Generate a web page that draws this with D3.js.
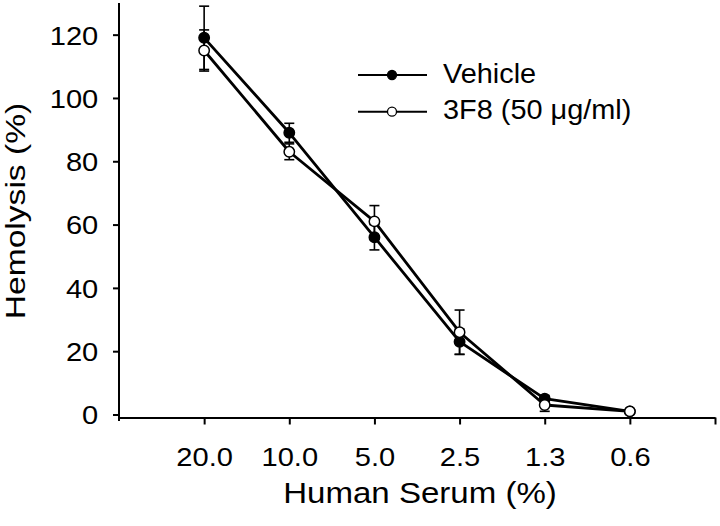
<!DOCTYPE html>
<html>
<head>
<meta charset="utf-8">
<script src="https://cdn.jsdelivr.net/npm/d3@7"></script>
<style>
	body { margin: 0; background: #fff; }
	text { font-family: "Liberation Sans", Arial, sans-serif; fill: #000; }
</style>
</head>
<body>
<div id="chart"></div>
<script>
var serum = ["20.0", "10.0", "5.0", "2.5", "1.3", "0.6"]
var vehicle = [119, 89, 56, 23, 5, 1]
var vehicleErr = [10, 3, 4, 4, 1, 0.5]
var mab = [115, 83, 61, 26, 3, 1]
var mabErr = [6.5, 2.5, 5, 7, 2, 0.5]
var yTicks = [0, 20, 40, 60, 80, 100, 120]
var seriesNames = ["Vehicle", "3F8 (50 \u03bcg/ml)"]

var width = 720, height = 526
var axisY = 417.5

const svg = d3.select("#chart")
	.append("svg")
		.attr("width", width)
		.attr("height", height)

const x = d3.scaleLinear()
	.domain([0, serum.length + 1])
	.range([119, 715])
const y = d3.scaleLinear()
	.domain([0, 130])
	.range([414.5, 3])

// x axis
const xAxis = svg.append("g")
	.attr("transform", `translate(0,${axisY})`)
	.call(d3.axisBottom(x)
		.tickValues(d3.range(1, serum.length + 2))
		.tickSize(7)
		.tickSizeOuter(0)
		.tickFormat(d => serum[d - 1] || ""))
xAxis.select(".domain").attr("stroke-width", 2)
xAxis.selectAll(".tick line").attr("stroke-width", 2)
xAxis.selectAll(".tick text")
	.attr("font-size", 26)
	.attr("y", 48.5)
	.attr("dy", 0)
	.attr("transform", "scale(1.12,1)")

// y axis
const yAxis = svg.append("g")
	.attr("transform", "translate(119,0)")
	.call(d3.axisLeft(y)
		.tickValues(yTicks)
		.tickSize(6)
		.tickSizeOuter(0))
yAxis.select(".domain").attr("d", "M0,3V421").attr("stroke-width", 2)
yAxis.selectAll(".tick line").attr("stroke-width", 2)
yAxis.selectAll(".tick text")
	.attr("font-size", 26)
	.attr("x", -18.5)
	.attr("dy", "0.36em")
	.attr("transform", "scale(1.12,1)")

// axis titles
svg.append("text")
	.attr("transform", "translate(420,503) scale(1.14,1)")
	.attr("text-anchor", "middle")
	.attr("font-size", 29)
	.text("Human Serum (%)")
svg.append("text")
	.attr("transform", "translate(25,211) rotate(-90) scale(1.2,1)")
	.attr("text-anchor", "middle")
	.attr("font-size", 28)
	.text("Hemolysis (%)")

var series = [
	{values: vehicle, err: vehicleErr, fill: "#000"},
	{values: mab, err: mabErr, fill: "#fff"}
]

const line = d3.line()
	.x((d, i) => x(i + 1))
	.y(d => y(d))

// lines
series.forEach(s => {
	svg.append("path")
		.datum(s.values)
		.attr("fill", "none")
		.attr("stroke", "#000")
		.attr("stroke-width", 2.8)
		.attr("stroke-linejoin", "round")
		.attr("d", line)
})

// error bars
series.forEach(s => {
	s.values.forEach((v, i) => {
		let cx = x(i + 1)
		let g = svg.append("g").attr("stroke", "#000").attr("stroke-width", 1.6)
		g.append("line")
			.attr("x1", cx).attr("x2", cx)
			.attr("y1", y(v - s.err[i])).attr("y2", y(v + s.err[i]))
		g.append("line")
			.attr("x1", cx - 5).attr("x2", cx + 5)
			.attr("y1", y(v + s.err[i])).attr("y2", y(v + s.err[i]))
		g.append("line")
			.attr("x1", cx - 5).attr("x2", cx + 5)
			.attr("y1", y(v - s.err[i])).attr("y2", y(v - s.err[i]))
	})
})

// markers
series.forEach(s => {
	svg.append("g")
		.selectAll("circle")
		.data(s.values)
		.join("circle")
			.attr("cx", (d, i) => x(i + 1))
			.attr("cy", d => y(d))
			.attr("r", 5.2)
			.attr("fill", s.fill)
			.attr("stroke", "#000")
			.attr("stroke-width", 1.5)
})

// legend
var legendY = [75, 111.7]
series.forEach((s, i) => {
	let g = svg.append("g").attr("transform", `translate(358,${legendY[i]})`)
	g.append("line")
		.attr("x1", 0).attr("x2", 69)
		.attr("stroke", "#000")
		.attr("stroke-width", 2)
	g.append("circle")
		.attr("cx", 34)
		.attr("r", 4.5)
		.attr("fill", s.fill)
		.attr("stroke", "#000")
		.attr("stroke-width", 1.3)
	g.append("text")
		.attr("transform", "translate(85,7.6) scale(1.07,1)")
		.attr("font-size", 27)
		.text(seriesNames[i])
})
</script>
</body>
</html>
